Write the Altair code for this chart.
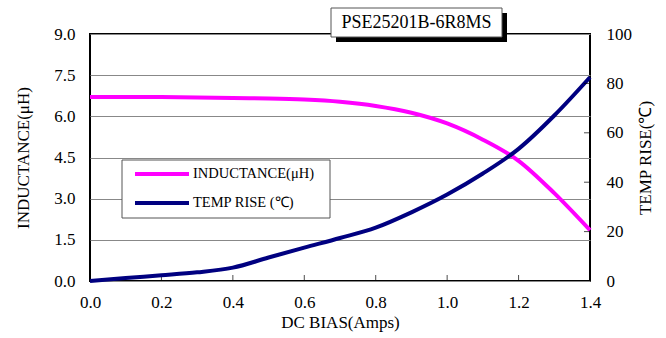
import altair as alt
import pandas as pd

# ---- data ----
dc_bias = [0.0, 0.1, 0.2, 0.3, 0.4, 0.5, 0.6, 0.7, 0.8, 0.9, 1.0, 1.1, 1.2, 1.3, 1.4]
inductance = [6.70, 6.70, 6.70, 6.69, 6.67, 6.65, 6.61, 6.53, 6.38, 6.13, 5.74, 5.15, 4.38, 3.20, 1.85]
temp_rise = [0.0, 1.2, 2.3, 3.5, 5.4, 9.5, 13.5, 17.4, 21.6, 27.8, 35.0, 43.5, 53.5, 67.0, 82.5]

x_ticks = [0.0, 0.2, 0.4, 0.6, 0.8, 1.0, 1.2, 1.4]
left_ticks = [0.0, 1.5, 3.0, 4.5, 6.0, 7.5, 9.0]
right_ticks = [0, 20, 40, 60, 80, 100]
inner_x_ticks = [0.2, 0.4, 0.6, 0.8, 1.0, 1.2]
inner_right_ticks = [20, 40, 60, 80]

series_names = ["INDUCTANCE(μH)", "TEMP RISE (℃)"]
title_text = "PSE25201B-6R8MS"

FONT = "Times New Roman, Liberation Serif, serif"
MAGENTA = "#FF00FF"
NAVY = "#000080"
AX_FS = 17

df_l = pd.DataFrame({"x": dc_bias, "y": inductance})
df_t = pd.DataFrame({"x": dc_bias, "y": temp_rise})
df_xt = pd.DataFrame({"x": inner_x_ticks, "y": [0.0] * len(inner_x_ticks)})
df_rt = pd.DataFrame({"x": [1.4] * len(inner_right_ticks), "y": inner_right_ticks})
one = pd.DataFrame({"a": [0]})

x_axis = alt.Axis(
    values=x_ticks, format=".1f", title="DC BIAS(Amps)", grid=False, ticks=False,
    domain=False, labelFont=FONT, labelFontSize=AX_FS, labelColor="black", labelFlush=False,
    labelPadding=13, titleFont=FONT, titleFontSize=AX_FS, titleFontWeight="normal",
    titleColor="black", titlePadding=4,
)
x_scale = alt.Scale(domain=[0, 1.4], nice=False, zero=False)
x_enc = alt.X("x:Q", scale=x_scale, axis=x_axis, title="DC BIAS(Amps)")

left_axis = alt.Axis(
    values=left_ticks, format=".1f", title="INDUCTANCE(μH)", grid=True,
    gridColor="#888888", gridWidth=1, gridOpacity=1, ticks=False, domain=False,
    labelFont=FONT, labelFontSize=AX_FS, labelColor="black", labelPadding=15, labelFlush=False,
    titleFont=FONT, titleFontSize=AX_FS, titleFontWeight="normal", titleColor="black",
    titlePadding=21,
)
left_scale = alt.Scale(domain=[0, 9], nice=False)
left_y = alt.Y("y:Q", scale=left_scale, axis=left_axis, title="INDUCTANCE(μH)")

right_axis = alt.Axis(
    orient="right", values=right_ticks, format="d", title="TEMP RISE(℃)", grid=False,
    ticks=False, domain=False, labelFont=FONT, labelFontSize=AX_FS, labelColor="black",
    labelPadding=16, labelFlush=False, titleFont=FONT, titleFontSize=AX_FS,
    titleFontWeight="normal", titleColor="black", titlePadding=6, titleAngle=270,
    titleBaseline="top",
)
right_scale = alt.Scale(domain=[0, 100], nice=False)
right_y = alt.Y("y:Q", scale=right_scale, axis=right_axis, title="TEMP RISE(℃)")

left_line = alt.Chart(df_l).mark_line(color=MAGENTA, strokeWidth=4, interpolate="monotone").encode(
    x=x_enc, y=left_y
)
x_inner = alt.Chart(df_xt).mark_tick(orient="vertical", size=6, thickness=1, color="black", yOffset=-3).encode(
    x=x_enc, y=left_y
)
left_group = alt.layer(left_line, x_inner)

right_line = alt.Chart(df_t).mark_line(color=NAVY, strokeWidth=4, interpolate="monotone").encode(
    x=x_enc, y=right_y
)
r_inner = alt.Chart(df_rt).mark_tick(orient="horizontal", size=6, thickness=1, color="black", xOffset=-3).encode(
    x=x_enc, y=right_y
)
right_group = alt.layer(right_line, r_inner)

# ---- decorations: title box and legend box (pixel positions inside the plot area) ----
base = alt.Chart(one)
title_shadow = base.mark_rect(color="black").encode(
    x=alt.value(246), x2=alt.value(417), y=alt.value(-21), y2=alt.value(8)
)
title_box = base.mark_rect(fill="white", stroke="#555555", strokeWidth=1).encode(
    x=alt.value(241), x2=alt.value(412), y=alt.value(-26), y2=alt.value(3)
)
title_lbl = base.mark_text(font=FONT, fontSize=18, color="black", baseline="middle").encode(
    x=alt.value(326.5), y=alt.value(-11), text=alt.value(title_text)
)
legend_box = base.mark_rect(fill="white", stroke="#555555", strokeWidth=1).encode(
    x=alt.value(32), x2=alt.value(240), y=alt.value(126), y2=alt.value(184)
)
leg1 = base.mark_rule(color=MAGENTA, strokeWidth=4).encode(
    x=alt.value(45), x2=alt.value(99), y=alt.value(140)
)
leg2 = base.mark_rule(color=NAVY, strokeWidth=4).encode(
    x=alt.value(45), x2=alt.value(99), y=alt.value(169)
)
leg1_t = base.mark_text(font=FONT, fontSize=14.5, color="black", align="left", baseline="middle").encode(
    x=alt.value(103), y=alt.value(140), text=alt.value(series_names[0])
)
leg2_t = base.mark_text(font=FONT, fontSize=14.5, color="black", align="left", baseline="middle").encode(
    x=alt.value(103), y=alt.value(169), text=alt.value(series_names[1])
)
decor = alt.layer(title_shadow, title_box, title_lbl, legend_box, leg1, leg2, leg1_t, leg2_t)

chart = (
    alt.layer(left_group, right_group, decor)
    .resolve_scale(y="independent")
    .properties(
        width=500,
        height=247,
        autosize=alt.AutoSizeParams(type="none"),
        padding={"left": 90, "top": 34, "right": 76, "bottom": 57},
        background="white",
    )
    .configure_view(stroke="black", strokeWidth=2)
)

chart.save("out.html", embed_options={"renderer": "svg", "actions": False})
